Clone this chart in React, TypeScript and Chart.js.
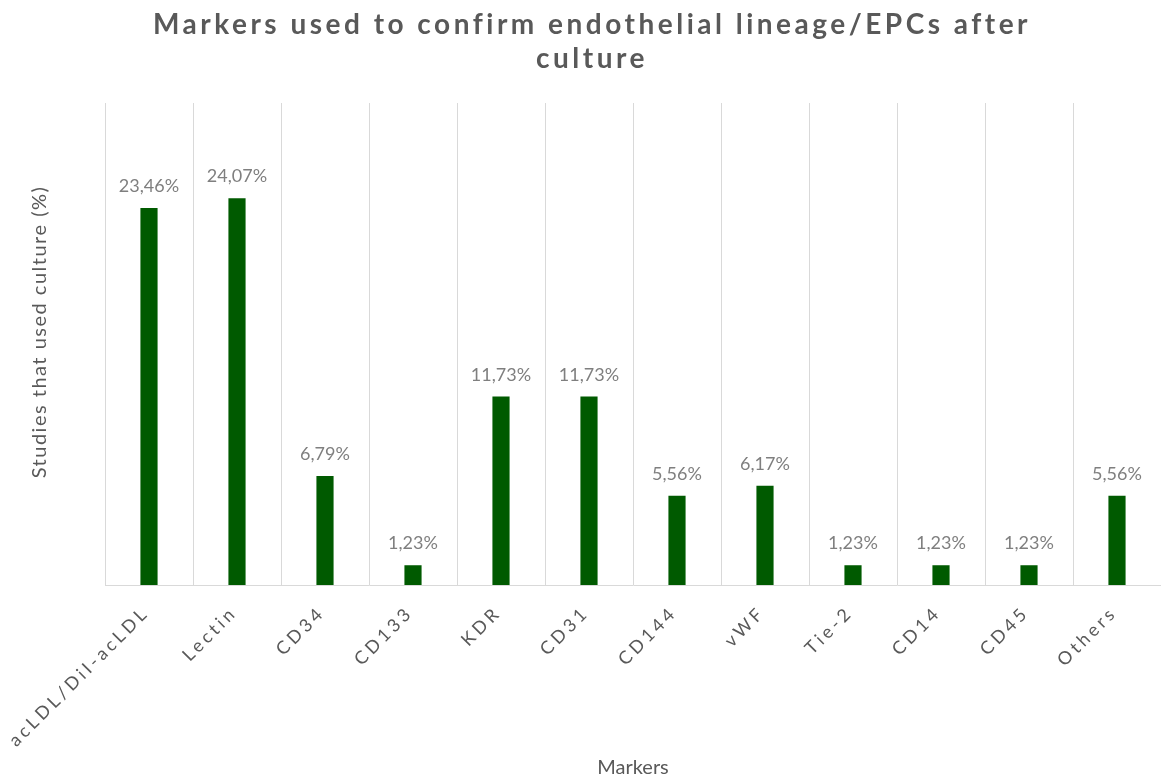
import React, { useEffect, useRef } from 'react';
import { Chart, registerables } from 'chart.js';

Chart.register(...registerables);

const categories = ['acLDL/DiI-acLDL', 'Lectin', 'CD34', 'CD133', 'KDR', 'CD31', 'CD144', 'vWF', 'Tie-2', 'CD14', 'CD45', 'Others'];
const values = [23.46, 24.07, 6.79, 1.23, 11.73, 11.73, 5.56, 6.17, 1.23, 1.23, 1.23, 5.56];
const valueLabels = values.map((v) => v.toFixed(2).replace('.', ',') + '%');
const titleLines = ['Markers used to confirm endothelial lineage/EPCs after', 'culture'];
const yTitle = 'Studies that used culture (%)';
const xTitle = 'Markers';
const yMax = 30;

const textPlugin = {
  id: 'customTexts',
  beforeDraw(chart: any) {
    chart.ctx.letterSpacing = '3.5px';
  },
  beforeDatasetsDraw(chart: any) {
    chart.ctx.letterSpacing = '0px';
  },
  afterDraw(chart: any) {
    const ctx = chart.ctx as CanvasRenderingContext2D;
    const area = chart.chartArea;
    ctx.save();
    // title
    (ctx as any).letterSpacing = '3.5px';
    ctx.font = 'bold 28px Lato';
    ctx.fillStyle = '#595959';
    ctx.textAlign = 'center';
    ctx.textBaseline = 'middle';
    titleLines.forEach((line, i) => ctx.fillText(line, 592, 25 + i * 34));
    (ctx as any).letterSpacing = '0px';
    // data labels
    ctx.font = '18px Lato';
    ctx.fillStyle = '#7f7f7f';
    ctx.textBaseline = 'alphabetic';
    const meta = chart.getDatasetMeta(0);
    meta.data.forEach((bar: any, i: number) => {
      ctx.fillText(valueLabels[i], bar.x, bar.y - 16);
    });
    // axis titles
    ctx.font = '20px Lato';
    ctx.fillStyle = '#595959';
    ctx.textBaseline = 'middle';
    ctx.fillText(xTitle, (area.left + area.right) / 2, 768);
    ctx.save();
    (ctx as any).letterSpacing = '1.5px';
    ctx.translate(40, 332);
    ctx.rotate(-Math.PI / 2);
    ctx.fillText(yTitle, 0, 0);
    ctx.restore();
    ctx.restore();
  },
};

export default function App() {
  const ref = useRef<HTMLCanvasElement>(null);
  useEffect(() => {
    document.body.style.margin = '0';
    if (!ref.current) return;
    const chart = new Chart(ref.current, {
      type: 'bar',
      data: {
        labels: categories,
        datasets: [
          {
            data: values,
            backgroundColor: '#005a00',
            borderWidth: 0,
            categoryPercentage: 1,
            barPercentage: 0.195,
          },
        ],
      },
      options: {
        responsive: false,
        animation: false,
        layout: { padding: { top: 103, left: 0, right: 0, bottom: 0 } },
        plugins: {
          legend: { display: false },
          tooltip: { enabled: false },
          title: { display: false },
        },
        scales: {
          x: {
            grid: { display: true, color: '#d9d9d9', drawTicks: false, offset: true },
            border: { display: true, color: '#d9d9d9' },
            ticks: {
              color: '#595959',
              font: { family: 'Lato', size: 18 },
              maxRotation: 45,
              minRotation: 45,
              padding: 17,
              labelOffset: -3,
              autoSkip: false,
            },
            afterFit: (s: any) => {
              s.height = 195;
            },
          },
          y: {
            min: 0,
            max: yMax,
            grid: { display: false },
            border: { display: false },
            ticks: { display: false },
            afterFit: (s: any) => {
              s.width = 105;
            },
          },
        },
      },
      plugins: [textPlugin],
    });
    return () => chart.destroy();
  }, []);
  return (
    <div style={{ width: 1161, height: 780 }}>
      <canvas ref={ref} width={1161} height={780} style={{ display: 'block' }} />
    </div>
  );
}
